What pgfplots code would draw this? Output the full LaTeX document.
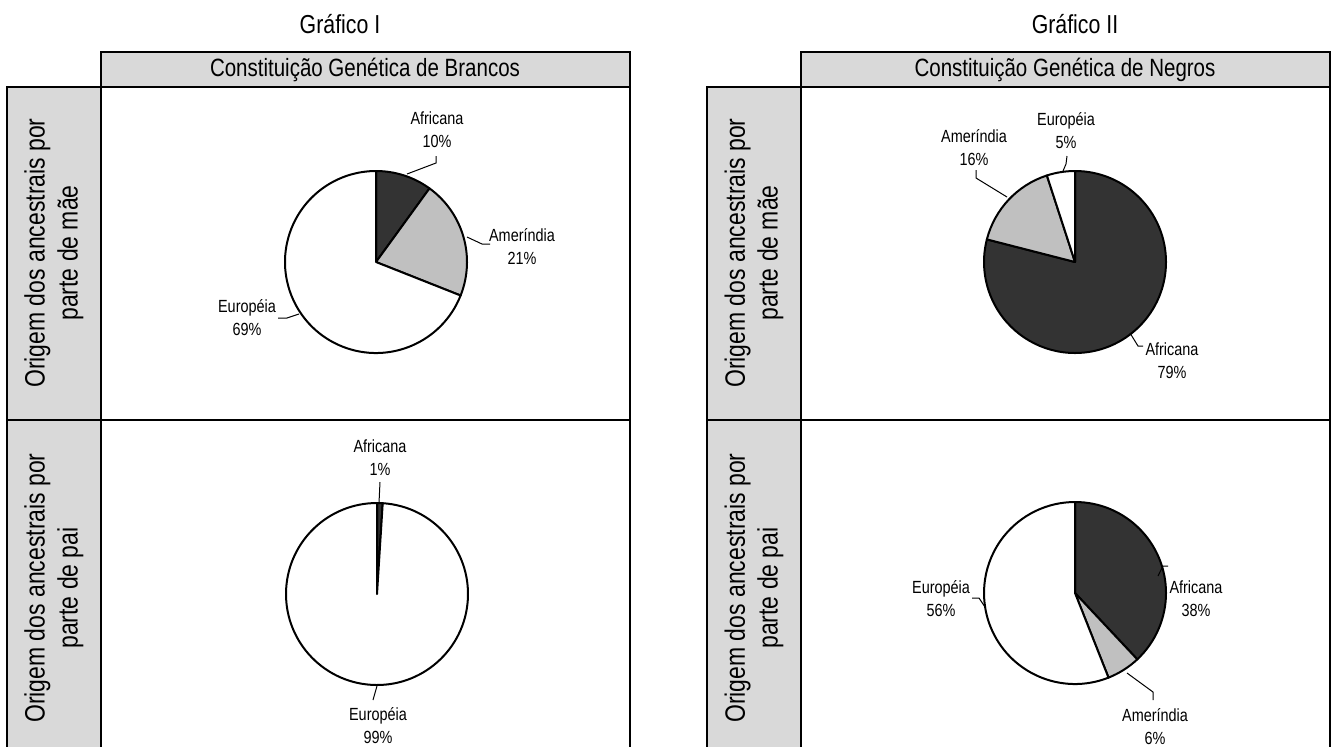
\documentclass[border=0pt]{standalone}
\usepackage{pgfplots}
\pgfplotsset{compat=1.18}
\usepackage{pgfplotstable}
\usepackage{fontspec}
\setmainfont{Liberation Sans}[FakeStretch=0.82]

\definecolor{afr}{HTML}{333333}
\definecolor{ame}{HTML}{C0C0C0}
\definecolor{eur}{HTML}{FFFFFF}
\definecolor{cellgray}{HTML}{D9D9D9}

% slices go clockwise from 12 o'clock, like the spreadsheet pies
\pgfplotstableread{
pct col
10 afr
21 ame
69 eur
}\brancosmae
\pgfplotstableread{
pct col
1 afr
99 eur
}\brancospai
\pgfplotstableread{
pct col
79 afr
16 ame
5 eur
}\negrosmae
\pgfplotstableread{
pct col
38 afr
6 ame
56 eur
}\negrospai

\def\pieR{45.5pt}
\def\piecmds{}
% #1 table, #2 #3 centre in pixel units of the axis
\newcommand\addpie[3]{%
  \pgfplotstablegetrowsof{#1}%
  \pgfmathtruncatemacro\lastrow{\pgfplotsretval-1}%
  \def\angA{90}%
  \pgfplotsforeachungrouped \r in {0,...,\lastrow}{%
    \pgfplotstablegetelem{\r}{pct}\of{#1}\let\pct\pgfplotsretval
    \pgfplotstablegetelem{\r}{col}\of{#1}\let\col\pgfplotsretval
    \pgfmathsetmacro\angB{\angA-3.6*\pct}%
    \edef\piecmds{\unexpanded\expandafter{\piecmds}%
      \noexpand\filldraw[fill=\col,draw=black,line width=1pt,line join=round]
      (axis cs:#2,#3) -- ++(\angA:\pieR) arc[start angle=\angA,end angle=\angB,radius=\pieR] -- cycle;}%
    \let\angA\angB
  }%
}
\addpie{\brancosmae}{376}{262}
\addpie{\brancospai}{377}{594}
\addpie{\negrosmae}{1075}{262}
\addpie{\negrospai}{1075}{593}

\tikzset{
  lbl/.style={align=center, font=\fontsize{8.8}{11.5}\selectfont, inner sep=0pt},
  ldr/.style={line width=0.5pt},
  frame/.style={line width=1pt},
  side/.style={rotate=90, align=center, font=\fontsize{14}{16.5}\selectfont},
}

\begin{document}
\begin{tikzpicture}
\begin{axis}[
  scale only axis, width=666.5pt, height=373pt,
  xmin=0, xmax=1333, ymin=0, ymax=746, y dir=reverse,
  hide axis, clip=false,
]
\coordinate (bbA) at (axis cs:0,0);
\coordinate (bbB) at (axis cs:1333,746);

% Grafico I frame
\fill[cellgray] (axis cs:101,52) rectangle (axis cs:630,87);
\fill[cellgray] (axis cs:7,87) rectangle (axis cs:101,752);
\draw[frame] (axis cs:101,87) -- (axis cs:101,52) -- (axis cs:630,52) -- (axis cs:630,752);
\draw[frame] (axis cs:7,752) -- (axis cs:7,87) -- (axis cs:630,87);
\draw[frame] (axis cs:7,420) -- (axis cs:630,420);
\draw[frame] (axis cs:101,87) -- (axis cs:101,752);

% Grafico II frame
\fill[cellgray] (axis cs:801,52) rectangle (axis cs:1330,87);
\fill[cellgray] (axis cs:707,87) rectangle (axis cs:801,752);
\draw[frame] (axis cs:801,87) -- (axis cs:801,52) -- (axis cs:1330,52) -- (axis cs:1330,752);
\draw[frame] (axis cs:707,752) -- (axis cs:707,87) -- (axis cs:1330,87);
\draw[frame] (axis cs:707,420) -- (axis cs:1330,420);
\draw[frame] (axis cs:801,87) -- (axis cs:801,752);

\node[font=\fontsize{13}{15}\selectfont] at (axis cs:340,24) {Gráfico I};
\node[font=\fontsize{13}{15}\selectfont] at (axis cs:1075,24) {Gráfico II};
\node[font=\fontsize{12.5}{14}\selectfont] at (axis cs:365,70) {Constituição Genética de Brancos};
\node[font=\fontsize{12.5}{14}\selectfont] at (axis cs:1065,70) {Constituição Genética de Negros};

\node[side] at (axis cs:54,253) {Origem dos ancestrais por\\parte de mãe};
\node[side] at (axis cs:54,588) {Origem dos ancestrais por\\parte de pai};
\node[side] at (axis cs:754,253) {Origem dos ancestrais por\\parte de mãe};
\node[side] at (axis cs:754,588) {Origem dos ancestrais por\\parte de pai};

\piecmds

% labels and leader lines
\node[lbl] at (axis cs:437,130) {Africana\\10\%};
\draw[ldr] (axis cs:407,174) -- (axis cs:436,163) -- (axis cs:436,156);
\node[lbl] at (axis cs:522,247) {Ameríndia\\21\%};
\draw[ldr] (axis cs:467,237) -- (axis cs:482,244) -- (axis cs:490,244);
\node[lbl] at (axis cs:247,318) {Européia\\69\%};
\draw[ldr] (axis cs:278,318) -- (axis cs:287,318) -- (axis cs:299,314);

\node[lbl] at (axis cs:380,458) {Africana\\1\%};
\draw[ldr] (axis cs:380,482) -- (axis cs:379,503);
\node[lbl] at (axis cs:378,726) {Européia\\99\%};
\draw[ldr] (axis cs:377,686) -- (axis cs:373,700);

\node[lbl] at (axis cs:1066,131) {Européia\\5\%};
\draw[ldr] (axis cs:1067,156) -- (axis cs:1066,164) -- (axis cs:1063,171);
\node[lbl] at (axis cs:974,148) {Ameríndia\\16\%};
\draw[ldr] (axis cs:976,170) -- (axis cs:976,178) -- (axis cs:1007,197);
\node[lbl] at (axis cs:1172,361) {Africana\\79\%};
\draw[ldr] (axis cs:1130,333) -- (axis cs:1138,346) -- (axis cs:1143,346);

\node[lbl] at (axis cs:1196,599) {Africana\\38\%};
\draw[ldr] (axis cs:1158,576) -- (axis cs:1163,566) -- (axis cs:1168,566);
\node[lbl] at (axis cs:941,599) {Européia\\56\%};
\draw[ldr] (axis cs:972,598) -- (axis cs:979,598) -- (axis cs:985,607);
\node[lbl] at (axis cs:1155,727) {Ameríndia\\6\%};
\draw[ldr] (axis cs:1127,673) -- (axis cs:1153,692) -- (axis cs:1153,700);
\end{axis}
\pgfresetboundingbox
\path (bbA) rectangle (bbB);
\end{tikzpicture}
\end{document}
